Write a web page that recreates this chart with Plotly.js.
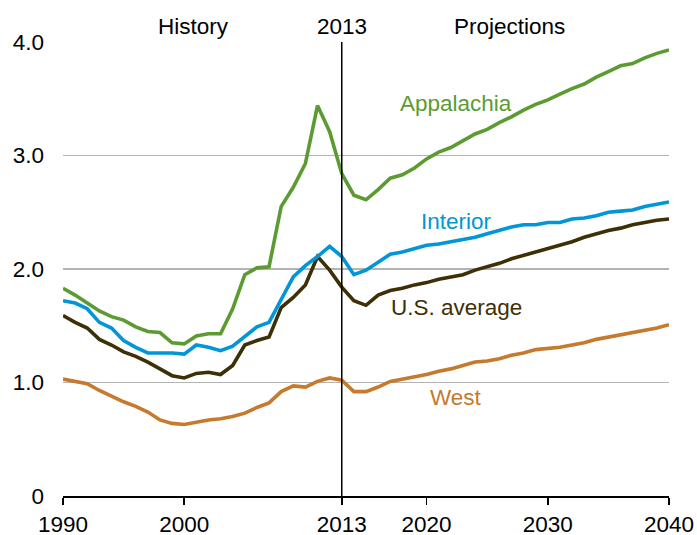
<!DOCTYPE html>
<html>
<head>
<meta charset="utf-8">
<script src="https://cdn.plot.ly/plotly-3.0.1.min.js"></script>
<style>html,body{margin:0;padding:0;background:#fff;}#chart{width:697px;height:535px;}</style>
</head>
<body>
<div id="chart"></div>
<script>
var years = [];
for (var y = 1990; y <= 2040; y++) years.push(y);

var appalachia = [1.83,1.77,1.70,1.63,1.58,1.55,1.49,1.45,1.44,1.35,1.34,1.41,1.43,1.43,1.65,1.95,2.01,2.02,2.55,2.72,2.93,3.44,3.21,2.84,2.65,2.61,2.70,2.80,2.83,2.89,2.97,3.03,3.07,3.13,3.19,3.23,3.29,3.34,3.40,3.45,3.49,3.54,3.59,3.63,3.69,3.74,3.79,3.81,3.86,3.90,3.93];
var interior = [1.72,1.70,1.65,1.53,1.48,1.37,1.31,1.26,1.26,1.26,1.25,1.33,1.31,1.28,1.32,1.41,1.49,1.53,1.73,1.93,2.03,2.11,2.20,2.11,1.95,1.99,2.06,2.13,2.15,2.18,2.21,2.22,2.24,2.26,2.28,2.31,2.34,2.37,2.39,2.39,2.41,2.41,2.44,2.45,2.47,2.50,2.51,2.52,2.55,2.57,2.59];
var usAverage = [1.59,1.53,1.48,1.38,1.33,1.27,1.23,1.18,1.12,1.06,1.04,1.08,1.09,1.07,1.15,1.33,1.37,1.40,1.66,1.75,1.86,2.11,1.99,1.84,1.72,1.68,1.77,1.81,1.83,1.86,1.88,1.91,1.93,1.95,1.99,2.02,2.05,2.09,2.12,2.15,2.18,2.21,2.24,2.28,2.31,2.34,2.36,2.39,2.41,2.43,2.44];
var west = [1.03,1.01,0.99,0.93,0.88,0.83,0.79,0.74,0.67,0.64,0.63,0.65,0.67,0.68,0.70,0.73,0.78,0.82,0.92,0.97,0.96,1.01,1.04,1.02,0.92,0.92,0.96,1.01,1.03,1.05,1.07,1.10,1.12,1.15,1.18,1.19,1.21,1.24,1.26,1.29,1.30,1.31,1.33,1.35,1.38,1.40,1.42,1.44,1.46,1.48,1.51];

var seriesNames = ['Appalachia','Interior','U.S. average','West'];
var xTickVals = [1990,2000,2013,2020,2030,2040];
var xTickText = ['1990','2000','2013','2020','2030','2040'];
var yTickVals = [0,1,2,3,4];
var yTickText = ['0','1.0','2.0','3.0','4.0'];
var headerLabels = ['History','2013','Projections'];
var headerYears = [1990 + (193-63)/12.12, 2013, 1990 + (509-63)/12.12];

var colors = ['#5B9B32','#0096D7','#3D3006','#C57A2E'];
var data = [appalachia, interior, usAverage, west];

var traces = data.map(function(d, i){
  return {x: years, y: d, type: 'scatter', mode: 'lines', name: seriesNames[i],
    line: {color: colors[i], width: 3.6}, cliponaxis: false, hoverinfo: 'skip'};
});
// draw order: west, us avg, interior, appalachia
traces = [traces[3], traces[2], traces[1], traces[0]];

var labelPos = [
  {x: 2022.45, y: 3.455},
  {x: 2022.45, y: 2.42},
  {x: 2022.45, y: 1.66},
  {x: 2022.45, y: 0.87}
];

var annotations = seriesNames.map(function(n, i){
  return {x: labelPos[i].x, y: labelPos[i].y, xref: 'x', yref: 'y', text: n, showarrow: false,
    xanchor: 'center', yanchor: 'middle', font: {family: 'Arial, Liberation Sans, sans-serif', size: 22.5, color: colors[i]}};
});
headerLabels.forEach(function(t, i){
  annotations.push({x: headerYears[i], y: 1, xref: 'x', yref: 'paper', yshift: 16, text: t, showarrow: false,
    xanchor: 'center', yanchor: 'middle', font: {family: 'Arial, Liberation Sans, sans-serif', size: 22.5, color: '#000'}});
});

var layout = {
  width: 697, height: 535,
  margin: {l: 63, r: 28, t: 42, b: 39},
  paper_bgcolor: '#fff', plot_bgcolor: '#fff',
  showlegend: false,
  font: {family: 'Arial, Liberation Sans, sans-serif', size: 22.5, color: '#000'},
  xaxis: {range: [1990, 2040], tickvals: xTickVals, ticktext: xTickText, showgrid: false, zeroline: false,
    showline: true, linecolor: '#000', linewidth: 1.5, ticks: 'outside', ticklen: 7, tickwidth: 1.5, tickcolor: '#000',
    tickfont: {size: 22.5, color: '#000'}, fixedrange: true},
  yaxis: {range: [0, 4], tickvals: yTickVals, ticktext: yTickText, showgrid: true, gridcolor: '#B3B3B3', gridwidth: 1.2,
    zeroline: false, showline: false, ticks: '', ticklabelstandoff: 18, tickfont: {size: 22.5, color: '#000'}, fixedrange: true},
  shapes: [{type: 'line', xref: 'x', yref: 'y', x0: 2013, x1: 2013, y0: 0, y1: 4, line: {color: '#000', width: 1.5}}],
  annotations: annotations
};

Plotly.newPlot('chart', traces, layout, {staticPlot: true, displayModeBar: false});
</script>
</body>
</html>
